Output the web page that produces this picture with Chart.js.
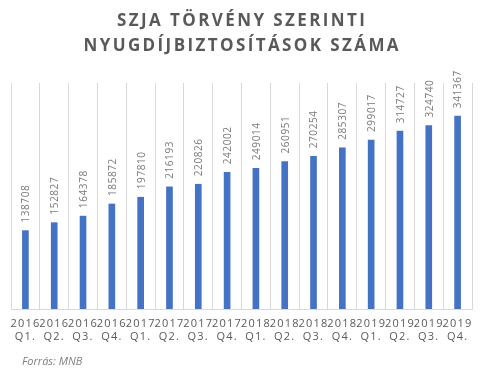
<!DOCTYPE html>
<html>
<head>
<meta charset="utf-8">
<script src="https://cdn.jsdelivr.net/npm/chart.js@4"></script>
<style>
html,body{margin:0;padding:0;background:#fff;}
#wrap{width:483px;height:372px;position:relative;}
</style>
</head>
<body>
<div id="wrap"><canvas id="c" width="483" height="372"></canvas></div>
<script>
const years = ['2016','2016','2016','2016','2017','2017','2017','2017','2018','2018','2018','2018','2019','2019','2019','2019'];
const quarters = ['Q1.','Q2.','Q3.','Q4.','Q1.','Q2.','Q3.','Q4.','Q1.','Q2.','Q3.','Q4.','Q1.','Q2.','Q3.','Q4.'];
const values = [138708,152827,164378,185872,197810,216193,220826,242002,249014,260951,270254,285307,299017,314727,324740,341367];
const titleLines = ['SZJA TÖRVÉNY SZERINTI','NYUGDÍJBIZTOSÍTÁSOK SZÁMA'];
const sourceText = 'Forrás: MNB';
const yMax = 400000;

const labels = years.map((y,i)=>[y, quarters[i]]);

const spacingPlugin = {
  id:'spacing',
  beforeDraw(chart){ chart.ctx.letterSpacing = '1.2px'; }
};
const decoPlugin = {
  id:'deco',
  afterDatasetsDraw(chart){
    const ctx = chart.ctx;
    const meta = chart.getDatasetMeta(0);
    ctx.save();
    ctx.letterSpacing = '0.6px';
    ctx.font = '10px "Open Sans"';
    ctx.fillStyle = '#7a7a7a';
    ctx.textAlign = 'left';
    ctx.textBaseline = 'middle';
    meta.data.forEach((bar,i)=>{
      ctx.save();
      ctx.translate(bar.x+1, bar.y-8);
      ctx.rotate(-Math.PI/2);
      ctx.fillText(String(values[i]),0,0);
      ctx.restore();
    });
    ctx.restore();
  },
  afterDraw(chart){
    const ctx = chart.ctx;
    ctx.save();
    ctx.letterSpacing = '2.4px';
    ctx.font = 'bold 17px "Open Sans"';
    ctx.fillStyle = '#595959';
    ctx.textAlign = 'center';
    ctx.textBaseline = 'middle';
    ctx.fillText(titleLines[0], 241+1.2, 21);
    ctx.fillText(titleLines[1], 241+1.2, 46);
    ctx.letterSpacing = '0px';
    ctx.font = 'italic 11px "Open Sans"';
    ctx.fillStyle = '#7f7f7f';
    ctx.textAlign = 'left';
    ctx.textBaseline = 'alphabetic';
    ctx.fillText(sourceText, 22, 365);
    ctx.restore();
  }
};

new Chart(document.getElementById('c'),{
  type:'bar',
  data:{labels, datasets:[{data:values, backgroundColor:'#4472c4', barThickness:6}]},
  options:{
    responsive:false, animation:false,
    layout:{padding:{left:11,right:11,top:83,bottom:0}},
    plugins:{legend:{display:false},tooltip:{enabled:false}},
    scales:{
      y:{display:false,min:0,max:yMax},
      x:{
        grid:{color:'#d9d9d9',drawTicks:false,offset:true},
        border:{color:'#d9d9d9'},
        ticks:{color:'#595959',font:{family:'"Open Sans"',size:11,lineHeight:1.2},padding:8,maxRotation:0,minRotation:0,autoSkip:false},
        afterFit(s){ s.height = 63; }
      }
    }
  },
  plugins:[spacingPlugin, decoPlugin]
});
</script>
</body>
</html>
